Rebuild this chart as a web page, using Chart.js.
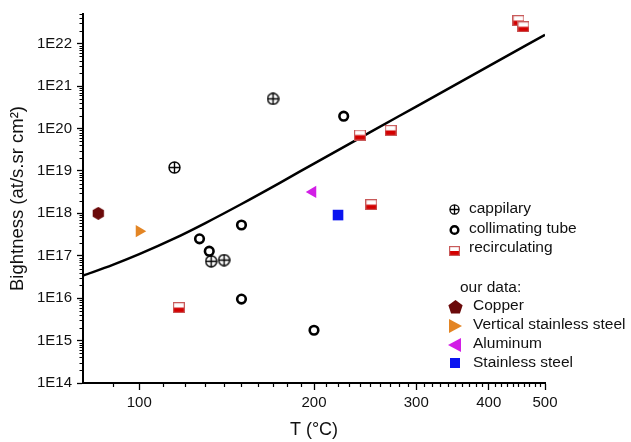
<!DOCTYPE html>
<html>
<head>
<meta charset="utf-8">
<script src="https://cdn.jsdelivr.net/npm/chart.js@4/dist/chart.umd.min.js"></script>
<style>
  body { margin: 0; background: #fff; }
  canvas { display: block; }
</style>
</head>
<body>
<canvas id="grafico" width="631" height="442"></canvas>
<script>
// T (°C) e brightness
const capT = [115, 133, 140, 170];
const capB = [1.2e19, 7.4e16, 7.9e16, 5.0e20];

const tubeT = [127, 132, 150, 150, 200, 225];
const tubeB = [2.5e17, 1.28e17, 5.3e17, 9.5e15, 1.75e15, 1.95e20];

const recT = [117, 240, 251, 271, 450, 459];
const recB = [6e15, 7e19, 1.6e18, 9e19, 3.5e22, 2.5e22];

const copperT = [85];
const copperB = [1e18];
const vertT = [100];
const vertB = [3.8e17];
const aluT = [199];
const aluB = [3.2e18];
const ssT = [220];
const ssB = [9.1e17];

// curva teorica
const lineT = [80, 90, 100, 115, 130, 150, 175, 200, 250, 300, 400, 500];
const lineB = [3.4e16, 6.1e16, 1.09e17, 2.56e17, 5.9e17, 1.66e18, 5.3e18, 1.49e19, 8.2e19, 3.29e20, 2.95e21, 1.62e22];

const xTicks = [100, 200, 300, 400, 500];
const yTicks = [1e14, 1e15, 1e16, 1e17, 1e18, 1e19, 1e20, 1e21, 1e22];

const FONT = '"Liberation Sans", Arial, sans-serif';
const RED = "#d40000";

function punti(xs, ys) {
    return xs.map((x, i) => ({ x: x, y: ys[i] }));
}

function creaCanvas(w, h, draw) {
    const c = document.createElement("canvas");
    c.width = w;
    c.height = h;
    draw(c.getContext("2d"), w, h);
    return c;
}

function circlePlus(size, lw) {
    return creaCanvas(size, size, function (ctx, w, h) {
        const r = w / 2 - lw / 2 - 0.3;
        ctx.strokeStyle = "#000";
        ctx.lineWidth = lw;
        ctx.beginPath();
        ctx.arc(w / 2, h / 2, r, 0, Math.PI * 2);
        ctx.moveTo(1, h / 2);
        ctx.lineTo(w - 1, h / 2);
        ctx.moveTo(w / 2, 1);
        ctx.lineTo(w / 2, h - 1);
        ctx.stroke();
    });
}

function halfSquare(w, h) {
    return creaCanvas(w, h, function (ctx) {
        ctx.fillStyle = "#fff";
        ctx.fillRect(0, 0, w, h);
        ctx.fillStyle = RED;
        ctx.fillRect(0, h / 2, w, h / 2);
        ctx.strokeStyle = "#c85a5a";
        ctx.lineWidth = 1.2;
        ctx.strokeRect(0.6, 0.6, w - 1.2, h - 1.2);
    });
}

function poligono(n, size, color, rot) {
    return creaCanvas(size, size, function (ctx, w, h) {
        const r = w / 2;
        ctx.fillStyle = color;
        ctx.beginPath();
        for (let i = 0; i < n; i++) {
            const a = rot + i * 2 * Math.PI / n;
            const px = w / 2 + r * Math.cos(a);
            const py = h / 2 + r * Math.sin(a);
            if (i === 0) ctx.moveTo(px, py); else ctx.lineTo(px, py);
        }
        ctx.closePath();
        ctx.fill();
    });
}

const imgCap = circlePlus(13, 1.4);
const imgRec = halfSquare(12, 11);
const imgHex = poligono(6, 13, "#6b0a0a", -Math.PI / 2);

// tacche minori + legenda
const decorazioni = {
    id: "decorazioni",
    afterDraw(chart) {
        const ctx = chart.ctx;
        const xs = chart.scales.x;
        const ys = chart.scales.y;
        const area = chart.chartArea;
        ctx.save();
        ctx.strokeStyle = "#000";
        ctx.lineWidth = 1.2;
        ctx.beginPath();
        for (let d = 14; d <= 22; d++) {
            for (let m = 2; m <= 9; m++) {
                const v = m * Math.pow(10, d);
                if (v > ys.max) continue;
                const py = Math.round(ys.getPixelForValue(v)) + 0.5;
                ctx.moveTo(area.left - 3.5, py);
                ctx.lineTo(area.left, py);
            }
        }
        for (let v = 90; v < 500; v += 10) {
            if (v % 100 === 0) continue;
            const px = Math.round(xs.getPixelForValue(v)) + 0.5;
            ctx.moveTo(px, area.bottom);
            ctx.lineTo(px, area.bottom + 4);
        }
        ctx.stroke();

        // legenda
        ctx.font = "15.5px " + FONT;
        ctx.fillStyle = "#111";
        ctx.textBaseline = "middle";
        ctx.textAlign = "left";
        const voci = [
            ["cappilary", 209],
            ["collimating tube", 229],
            ["recirculating", 248]
        ];
        voci.forEach(v => ctx.fillText(v[0], 469, v[1]));
        ctx.drawImage(circlePlus(11, 1.3), 449, 204);
        ctx.strokeStyle = "#000";
        ctx.lineWidth = 2.5;
        ctx.beginPath();
        ctx.arc(454.5, 230, 3.8, 0, Math.PI * 2);
        ctx.stroke();
        ctx.drawImage(halfSquare(11, 10), 449, 246);

        ctx.fillText("our data:", 460, 288);
        const nostri = [
            ["Copper", 306],
            ["Vertical stainless steel", 325],
            ["Aluminum", 344],
            ["Stainless steel", 363]
        ];
        nostri.forEach(v => ctx.fillText(v[0], 473, v[1]));
        ctx.drawImage(poligono(5, 15, "#6b0a0a", -Math.PI / 2), 448, 300);
        ctx.fillStyle = "#e38524";
        ctx.beginPath();
        ctx.moveTo(449, 319); ctx.lineTo(462, 326); ctx.lineTo(449, 333);
        ctx.closePath(); ctx.fill();
        ctx.fillStyle = "#d21ee6";
        ctx.beginPath();
        ctx.moveTo(461, 338); ctx.lineTo(448, 345); ctx.lineTo(461, 352);
        ctx.closePath(); ctx.fill();
        ctx.fillStyle = "#0a14f0";
        ctx.fillRect(450, 358, 10, 10);
        ctx.restore();
    }
};

new Chart(document.getElementById("grafico"), {
    type: "scatter",
    data: {
        datasets: [
            {
                label: "fit",
                data: punti(lineT, lineB),
                showLine: true,
                borderColor: "#000",
                borderWidth: 2.5,
                pointRadius: 0,
                cubicInterpolationMode: "monotone",
                order: 5
            },
            {
                label: "cappilary",
                data: punti(capT, capB),
                pointStyle: imgCap
            },
            {
                label: "collimating tube",
                data: punti(tubeT, tubeB),
                pointStyle: "circle",
                pointRadius: 4.3,
                borderWidth: 2.6,
                borderColor: "#000",
                backgroundColor: "rgba(255,255,255,0)"
            },
            {
                label: "recirculating",
                data: punti(recT, recB),
                pointStyle: imgRec
            },
            {
                label: "Copper",
                data: punti(copperT, copperB),
                pointStyle: imgHex
            },
            {
                label: "Vertical stainless steel",
                data: punti(vertT, vertB),
                pointStyle: "triangle",
                rotation: 90,
                pointRadius: 7,
                borderWidth: 0,
                backgroundColor: "#e38524"
            },
            {
                label: "Aluminum",
                data: punti(aluT, aluB),
                pointStyle: "triangle",
                rotation: -90,
                pointRadius: 7,
                borderWidth: 0,
                backgroundColor: "#d21ee6"
            },
            {
                label: "Stainless steel",
                data: punti(ssT, ssB),
                pointStyle: "rect",
                pointRadius: 7.5,
                borderWidth: 0,
                backgroundColor: "#0a14f0"
            }
        ]
    },
    options: {
        responsive: false,
        animation: false,
        devicePixelRatio: 1,
        layout: { padding: { top: 12, right: 86, left: 0, bottom: 0 } },
        plugins: {
            legend: { display: false },
            tooltip: { enabled: false }
        },
        scales: {
            x: {
                type: "logarithmic",
                min: 80,
                max: 500,
                afterBuildTicks: s => { s.ticks = xTicks.map(v => ({ value: v })); },
                afterFit: s => { s.height = 59; },
                ticks: {
                    callback: v => String(v),
                    font: { size: 15, family: FONT },
                    color: "#111",
                    padding: 4,
                    maxRotation: 0,
                    autoSkip: false
                },
                grid: {
                    drawOnChartArea: false,
                    tickLength: 7,
                    tickColor: "#000",
                    tickWidth: 1.3
                },
                border: { color: "#000", width: 2 },
                title: {
                    display: true,
                    text: "T (°C)",
                    font: { size: 18, family: FONT },
                    color: "#111",
                    padding: { top: 0, bottom: 1 }
                }
            },
            y: {
                type: "logarithmic",
                min: 1e14,
                max: 5e22,
                afterBuildTicks: s => { s.ticks = yTicks.map(v => ({ value: v })); },
                afterFit: s => { s.width = 83; },
                ticks: {
                    callback: v => "1E" + Math.round(Math.log10(v)),
                    font: { size: 15, family: FONT },
                    color: "#111",
                    padding: 5,
                    autoSkip: false
                },
                grid: {
                    drawOnChartArea: false,
                    tickLength: 6,
                    tickColor: "#000",
                    tickWidth: 1.3
                },
                border: { color: "#000", width: 2 },
                title: {
                    display: true,
                    text: "Bightness (at/s.sr cm²)",
                    font: { size: 18.5, family: FONT },
                    color: "#111",
                    padding: { top: 7, bottom: 0 }
                }
            }
        }
    },
    plugins: [decorazioni]
});
</script>
</body>
</html>
